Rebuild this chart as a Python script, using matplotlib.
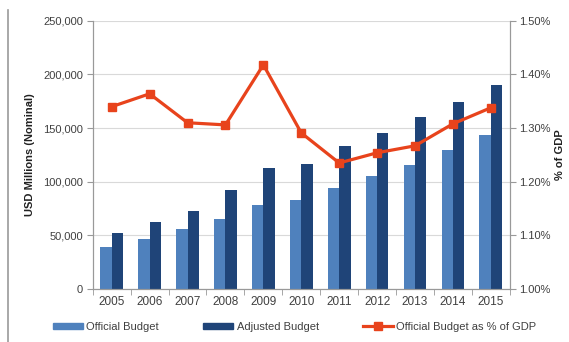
import numpy as np
import matplotlib
matplotlib.use("Agg")
from matplotlib import pyplot as plt
from matplotlib.lines import Line2D
from matplotlib.ticker import FuncFormatter, MultipleLocator

# data
years = ['2005', '2006', '2007', '2008', '2009', '2010',
         '2011', '2012', '2013', '2014', '2015']
official = [39500, 46600, 56000, 65000, 78000, 83000,
            94000, 105000, 116000, 130000, 143700]
adjusted = [52000, 62000, 73000, 92000, 113000, 116600,
            133000, 145000, 160000, 174000, 190600]
pct_gdp = [1.340, 1.364, 1.310, 1.306, 1.418, 1.291,
           1.235, 1.254, 1.267, 1.308, 1.338]

light = '#4f81bd'
dark = '#1f4478'
red = '#e8431c'
txt = '#404040'

plt.rcParams['font.family'] = ['Liberation Sans', 'DejaVu Sans']
plt.rcParams['font.size'] = 8

fig = plt.figure(figsize=(5.69, 3.42), dpi=100)
ax = fig.add_axes([0.163, 0.155, 0.733, 0.784])

x = np.arange(len(years))
w = 0.3
ax.bar(x - w/2, official, width=w, color=light, label='Official Budget', zorder=2)
ax.bar(x + w/2, adjusted, width=w, color=dark, label='Adjusted Budget', zorder=2)

ax.set_xlim(-0.5, len(years) - 0.5)
ax.set_ylim(0, 250000)
ax.yaxis.set_major_locator(MultipleLocator(50000))
ax.yaxis.set_major_formatter(FuncFormatter(lambda v, p: f'{int(v):,}'))
ax.set_xticks(x)
ax.set_xticklabels(years)
ax.set_xticks(np.arange(-0.5, len(years)), minor=True)
ax.tick_params(axis='x', which='major', length=0, pad=5, colors=txt, labelsize=8.5)
ax.tick_params(axis='x', which='minor', length=4, color='#999999')
ax.tick_params(axis='y', length=4, color='#999999', colors=txt, pad=3)
ax.grid(axis='y', color='#d9d9d9', linewidth=0.8, zorder=0)
ax.set_axisbelow(True)
ax.spines['top'].set_visible(False)
for s in ['left', 'right', 'bottom']:
    ax.spines[s].set_color('#999999')
ax.set_ylabel('USD Millions (Nominal)', fontweight='bold', color='#222222', labelpad=6)

ax2 = ax.twinx()
ax2.plot(x, pct_gdp, color=red, linewidth=2.3, marker='s', markersize=6,
         label='Official Budget as % of GDP', zorder=3)
ax2.set_ylim(1.0, 1.5)
ax2.yaxis.set_major_locator(MultipleLocator(0.1))
ax2.yaxis.set_major_formatter(FuncFormatter(lambda v, p: f'{v:.2f}%'))
ax2.tick_params(axis='y', length=4, color='#999999', colors=txt, pad=3)
ax2.spines['top'].set_visible(False)
for s in ['left', 'right', 'bottom']:
    ax2.spines[s].set_color('#999999')
ax2.set_ylabel('% of GDP', fontweight='bold', color='#222222', labelpad=3)

handles = [plt.Rectangle((0, 0), 1, 1, color=light),
           plt.Rectangle((0, 0), 1, 1, color=dark),
           Line2D([], [], color=red, linewidth=2.3, marker='s', markersize=6)]
labels = ['Official Budget', 'Adjusted Budget', 'Official Budget as % of GDP']
fig.legend(handles, labels, loc='lower center', bbox_to_anchor=(0.518, 0.0),
           ncol=3, frameon=False, handlelength=2.7, handleheight=0.5,
           columnspacing=4.0, handletextpad=0.3, labelcolor=txt)

# left frame line of the original picture
fig.add_artist(Line2D([0.014, 0.014], [0.0, 0.97], color='#9a9a9a', linewidth=1.2))

fig.savefig('out.png', dpi=100)
